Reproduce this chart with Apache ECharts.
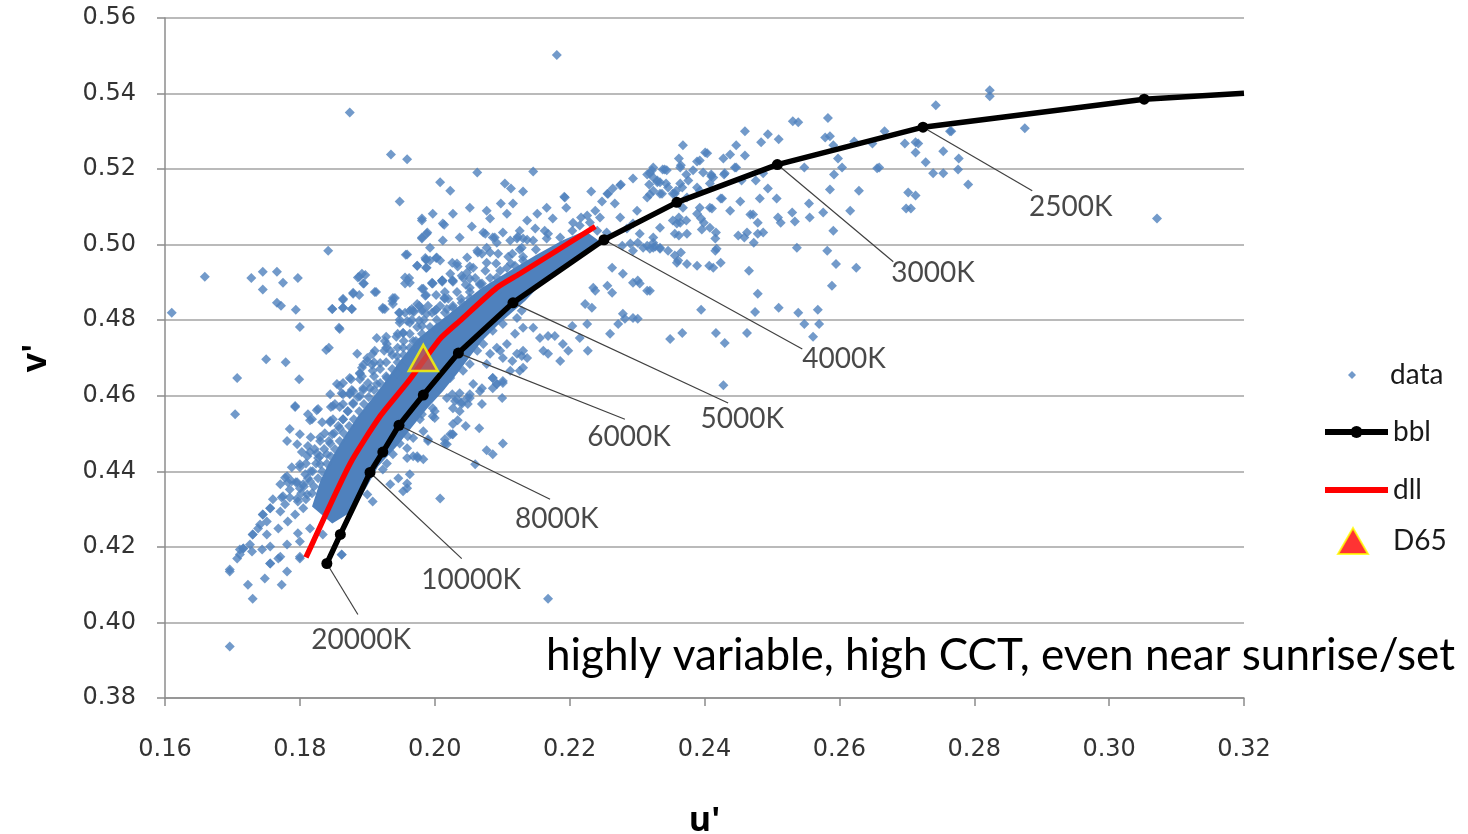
<!DOCTYPE html>
<html><head><meta charset="utf-8">
<script src="https://cdn.jsdelivr.net/npm/echarts@6/dist/echarts.min.js"></script>
<style>html,body{margin:0;padding:0;background:#fff}#c{width:1468px;height:834px}</style>
</head><body><div id="c"></div>
<script>
// ---- data (u', v') ----
const dataPts = [
[0.1874,0.5350],[0.1935,0.5239],[0.1959,0.5226],[0.1948,0.5114],[0.1981,0.5069],[0.2014,0.5053],[0.1989,0.5032],[0.1981,0.5016],[0.1842,0.4984],[0.1957,0.4973],[0.1987,0.4960],[0.2002,0.4965],[0.1974,0.4944],[0.1987,0.4939],[0.1659,0.4915],[0.1728,0.4912],[0.1745,0.4928],[0.1766,0.4928],[0.1775,0.4899],[0.1797,0.4912],[0.1745,0.4881],[0.1888,0.4915],[0.1897,0.4920],[0.1895,0.4897],[0.1913,0.4875],[0.1879,0.4873],[0.1888,0.4867],[0.1864,0.4854],[0.1864,0.4833],[0.1877,0.4830],[0.1848,0.4830],[0.1766,0.4846],[0.1772,0.4838],[0.1794,0.4828],[0.1610,0.4820],[0.1956,0.4897],[0.1962,0.4912],[0.1983,0.4883],[0.1996,0.4897],[0.2011,0.4902],[0.2027,0.4902],[0.1926,0.4830],[0.1937,0.4851],[0.1941,0.4859],[0.1947,0.4820],[0.1956,0.4820],[0.1969,0.4822],[0.1977,0.4838],[0.1981,0.4825],[0.2002,0.4828],[0.2014,0.4859],[0.2018,0.4830],[0.1948,0.4801],[0.1977,0.4799],[0.1800,0.4782],[0.1858,0.4780],
[0.2181,0.5502],[0.2063,0.5191],[0.2146,0.5194],[0.2104,0.5162],[0.2113,0.5149],[0.2131,0.5141],[0.2192,0.5127],[0.2232,0.5141],[0.2257,0.5135],[0.2264,0.5149],[0.2276,0.5159],[0.2294,0.5175],[0.2315,0.5186],[0.2324,0.5204],[0.2318,0.5159],[0.2330,0.5165],[0.2341,0.5199],[0.2346,0.5151],[0.2319,0.5133],[0.2334,0.5135],[0.2368,0.5263],[0.2362,0.5228],[0.2365,0.5210],[0.2389,0.5220],[0.2401,0.5244],[0.2373,0.5186],[0.2376,0.5170],[0.2398,0.5191],[0.2410,0.5186],[0.2429,0.5186],[0.2428,0.5228],[0.2438,0.5239],[0.2447,0.5263],[0.2445,0.5204],[0.2358,0.5143],[0.2367,0.5151],[0.2426,0.5122],[0.2408,0.5162],
[0.2823,0.5409],[0.2823,0.5393],[0.2743,0.5369],[0.2583,0.5335],[0.2531,0.5327],[0.2539,0.5324],[0.2460,0.5300],[0.2494,0.5292],[0.2484,0.5271],[0.2510,0.5279],[0.2579,0.5284],[0.2586,0.5287],[0.2591,0.5263],[0.2598,0.5228],[0.2604,0.5204],[0.2548,0.5204],[0.2592,0.5186],[0.2622,0.5273],[0.2649,0.5268],[0.2667,0.5300],[0.2697,0.5268],[0.2713,0.5271],[0.2713,0.5244],[0.2728,0.5218],[0.2656,0.5202],[0.2659,0.5204],[0.2629,0.5143],[0.2586,0.5146],[0.2739,0.5189],[0.2754,0.5189],[0.2754,0.5247],[0.2776,0.5199],[0.2777,0.5228],[0.2766,0.5300],[0.2791,0.5159],[0.2702,0.5138],[0.2713,0.5130],[0.2699,0.5096],[0.2706,0.5096],[0.2616,0.5090],[0.2576,0.5085],[0.2591,0.5037],[0.2582,0.4984],[0.2595,0.4949],[0.2625,0.4939],[0.2589,0.4891],
[0.2460,0.5236],[0.2364,0.5204],[0.2338,0.5199],[0.2324,0.5178],[0.2343,0.5162],[0.2356,0.5135],[0.2410,0.5181],[0.2430,0.5189],[0.2447,0.5204],[0.2455,0.5170],[0.2476,0.5170],[0.2487,0.5189],[0.2494,0.5149],[0.2482,0.5122],[0.2507,0.5122],[0.2453,0.5114],[0.2424,0.5122],[0.2411,0.5096],[0.2393,0.5098],[0.2438,0.5090],[0.2468,0.5080],[0.2479,0.5058],[0.2472,0.5080],[0.2509,0.5072],[0.2513,0.5058],[0.2530,0.5085],[0.2534,0.5061],[0.2555,0.5109],[0.2556,0.5072],[0.2395,0.5069],[0.2399,0.5058],[0.2396,0.5040],[0.2362,0.5072],[0.2359,0.5056],[0.2373,0.5064],[0.2362,0.5024],[0.2374,0.5029],[0.2417,0.5032],[0.2450,0.5024],[0.2463,0.5032],[0.2459,0.5019],[0.2473,0.5005],[0.2479,0.5029],[0.2487,0.5032],[0.2418,0.4989],[0.2324,0.5005],[0.2327,0.4995],[0.2356,0.4971],[0.2365,0.4979],[0.2359,0.4952],[0.2407,0.4944],[0.2424,0.4952],[0.2466,0.4931],[0.2537,0.4992],[0.2479,0.4870],[0.2395,0.4828],[0.2475,0.4822],[0.2510,0.4833],[0.2539,0.4820],[0.2568,0.4828],[0.2548,0.4790],[0.2570,0.4790],[0.2561,0.4756],[0.2349,0.4750],[0.2367,0.4766],[0.2417,0.4766],[0.2430,0.4740],[0.2463,0.4766],[0.2319,0.4878],[0.2322,0.5196],[0.2330,0.5170],[0.2337,0.5135],[0.2764,0.5300],[0.2875,0.5308],[0.2717,0.5268],[0.3071,0.5069],[0.2428,0.4628],
[0.2193,0.5125],[0.2098,0.5109],[0.2195,0.5098],[0.2248,0.5114],[0.2275,0.5157],[0.2256,0.5135],[0.2238,0.5090],[0.2217,0.5072],[0.2205,0.5058],[0.2226,0.5077],[0.2012,0.5056],[0.2055,0.5048],[0.2072,0.5032],[0.2086,0.5019],[0.2122,0.5016],[0.2137,0.5013],[0.2146,0.5011],[0.2163,0.5037],[0.2168,0.5029],[0.1993,0.4958],[0.1986,0.4965],[0.2026,0.4952],[0.2040,0.4918],[0.2052,0.4886],[0.2067,0.4897],[0.1997,0.4897],[0.2011,0.4905],[0.1986,0.4865],
[0.2278,0.4997],[0.2290,0.5003],[0.2301,0.5005],[0.2315,0.4997],[0.2324,0.4992],[0.2334,0.4989],[0.2346,0.4984],[0.2361,0.4958],[0.2374,0.4949],[0.2389,0.4944],[0.2413,0.4939],
[0.2263,0.4939],[0.2279,0.4923],[0.2301,0.4905],[0.2294,0.4899],[0.2304,0.4897],[0.2315,0.4878],[0.2256,0.4891],[0.2263,0.4873],[0.2235,0.4886],[0.2233,0.4833],[0.2223,0.4843],
[0.2279,0.4817],[0.2282,0.4804],[0.2294,0.4806],[0.2301,0.4804],[0.2272,0.4790],[0.2260,0.4764],[0.2226,0.4790],[0.2204,0.4785],[0.2215,0.4753],[0.2227,0.4719],[0.2198,0.4719],[0.2190,0.4737],[0.2178,0.4758],[0.2168,0.4758],[0.2146,0.4780],[0.2156,0.4753],[0.2131,0.4719],[0.2137,0.4700],[0.2161,0.4719],[0.2168,0.4711],[0.2186,0.4692],[0.2126,0.4666],[0.2115,0.4692],[0.2097,0.4719],[0.2077,0.4684],[0.2086,0.4647],[0.2101,0.4639],[0.2092,0.4631],[0.2067,0.4612],[0.2057,0.4631],[0.2048,0.4594],[0.2037,0.4559],[0.2027,0.4525],[0.2023,0.4498],
[0.2408,0.5045],[0.2416,0.5016],[0.2389,0.5082],[0.2374,0.5125],[0.2393,0.5143],[0.2416,0.4984],[0.2356,0.5029],[0.2364,0.5058],[0.2408,0.5098],[0.2238,0.4878],
[0.2166,0.5016],[0.2186,0.5019],[0.2204,0.5037],[0.2215,0.5051],[0.2230,0.5059],[0.2245,0.5072],[0.2241,0.5037],[0.2255,0.5032],[0.2275,0.5072],[0.2285,0.5043],[0.2294,0.5056],[0.2304,0.5029],[0.2267,0.5109],[0.2300,0.5090],[0.2315,0.5125],[0.2324,0.5143],[0.2334,0.5165],[0.2344,0.5197],[0.2319,0.5189],[0.2353,0.5135],[0.2364,0.5162],[0.2383,0.5197],[0.2393,0.5223],[0.2404,0.5242],[0.2413,0.5178],[0.2389,0.5151],[0.2368,0.5098],[0.2353,0.5064],[0.2334,0.5045],[0.2324,0.5019],[0.2334,0.4992],[0.2319,0.4989],[0.2309,0.4992],[0.2294,0.4984],
[0.2008,0.5165],[0.2023,0.5143],[0.1997,0.5082],[0.2027,0.5082],[0.2052,0.5098],[0.2077,0.5090],[0.2082,0.5069],[0.2107,0.5082],[0.2116,0.5109],[0.2137,0.5064],[0.2152,0.5082],[0.2166,0.5098],[0.2175,0.5069],[0.2149,0.5043],[0.2126,0.5037],[0.2101,0.5032],[0.2092,0.5005],[0.2112,0.5011],[0.2129,0.4992],[0.2077,0.4992],[0.2063,0.4984],[0.2048,0.4966],[0.2033,0.4950],[0.2023,0.4923],[0.2057,0.4939],[0.2077,0.4952],[0.2094,0.4976],[0.2008,0.4958],[0.1993,0.4992],[0.2012,0.5011],[0.2037,0.5019],[0.1981,0.5064],
[0.2100,0.4594],[0.2086,0.4620],[0.2030,0.4586],[0.2040,0.4583],[0.2049,0.4578],[0.2026,0.4604],[0.2037,0.4607],[0.2052,0.4604],[0.2000,0.4559],[0.1997,0.4546],[0.1981,0.4551],[0.1978,0.4538],[0.2034,0.4535],[0.2046,0.4520],[0.2066,0.4514],[0.2026,0.4498],[0.2015,0.4474],[0.2018,0.4472],[0.2101,0.4474],[0.2077,0.4456],[0.2086,0.4445],[0.1983,0.4506],[0.1990,0.4485],[0.1968,0.4488],[0.1960,0.4493],[0.1948,0.4474],[0.1959,0.4461],[0.1968,0.4440],[0.1975,0.4435],[0.1983,0.4432],[0.1938,0.4445],[0.1923,0.4405],[0.1929,0.4421],[0.2060,0.4419],[0.1946,0.4382],[0.1959,0.4368],[0.1953,0.4347],[0.1934,0.4366],[0.2008,0.4328],[0.2168,0.4063],
[0.1923,0.4833],[0.1938,0.4843],[0.1839,0.4721],[0.1843,0.4727],[0.1750,0.4697],[0.1779,0.4689],[0.1707,0.4647],[0.1799,0.4644],[0.1704,0.4551],[0.1793,0.4570],[0.1825,0.4562],[0.1812,0.4551],[0.1818,0.4538],[0.1849,0.4573],[0.1864,0.4634],[0.1879,0.4612],[0.1889,0.4660],[0.1900,0.4692],[0.1908,0.4711],[0.1929,0.4737],[0.1953,0.4766],[0.1968,0.4825],
[0.1778,0.4383],[0.1785,0.4352],[0.1796,0.4371],[0.1805,0.4366],[0.1745,0.4286],[0.1756,0.4302],[0.1741,0.4259],[0.1751,0.4233],[0.1730,0.4233],[0.1716,0.4196],[0.1711,0.4193],[0.1707,0.4169],[0.1696,0.4135],[0.1723,0.4100],[0.1730,0.4063],[0.1748,0.4116],[0.1756,0.4156],[0.1768,0.4169],[0.1773,0.4100],[0.1781,0.4135],[0.1800,0.4169],[0.1862,0.4179],[0.1959,0.4355],[0.1963,0.4392],[0.1900,0.4339],[0.1908,0.4320],[0.1997,0.4567],[0.2000,0.4541],[0.2027,0.4498],[0.2015,0.4485],[0.1990,0.4480],[0.1974,0.4440],[0.1959,0.4435],[0.1696,0.3936],
[0.1793,0.4573],[0.1827,0.4565],[0.1815,0.4535],[0.1852,0.4578],[0.1845,0.4604],[0.1859,0.4626],[0.1785,0.4512],[0.1800,0.4498],[0.1781,0.4480],[0.1796,0.4472],[0.1812,0.4467],[0.1830,0.4480],[0.1825,0.4448],[0.1811,0.4440],[0.1800,0.4419],[0.1781,0.4387],[0.1788,0.4374],[0.1771,0.4366],[0.1775,0.4334],[0.1760,0.4326],[0.1756,0.4302],[0.1745,0.4286],[0.1751,0.4267],[0.1738,0.4249],[0.1730,0.4233],[0.1726,0.4206],[0.1716,0.4196],[0.1711,0.4180],[0.1729,0.4188],[0.1744,0.4193],[0.1756,0.4201],[0.1771,0.4174],[0.1756,0.4156],[0.1781,0.4206],[0.1800,0.4214],[0.1797,0.4236],[0.1815,0.4249],[0.1800,0.4174],[0.1696,0.4140],[0.1862,0.4180],[0.1834,0.4233],[0.1782,0.4267],[0.1768,0.4249],[0.1793,0.4286],[0.1805,0.4302],[0.1771,0.4294],[0.1778,0.4313],[0.1796,0.4328],[0.1811,0.4339],[0.1800,0.4355],[0.1815,0.4374],[0.1819,0.4400],[0.1808,0.4392],[0.1830,0.4419],[0.1827,0.4435],[0.1840,0.4445],[0.1845,0.4474],[0.1848,0.4498],[0.1859,0.4514],[0.1845,0.4533],[0.1864,0.4538],[0.1871,0.4559],[0.1879,0.4581],[0.1889,0.4599],[0.1874,0.4604],[0.1904,0.4620],
[0.1981,0.5019],[0.1988,0.5029],[0.2075,0.5029],[0.2089,0.5019],[0.2123,0.5021],[0.2131,0.5016],[0.1959,0.4974],[0.2003,0.4966],[0.1987,0.4960],[0.1974,0.4944],[0.1988,0.4939],[0.2070,0.4976],[0.2115,0.4976],[0.2131,0.4958],[0.1892,0.4923],[0.1886,0.4913],[0.1894,0.4897],[0.1911,0.4875],[0.1956,0.4913],[0.1963,0.4899],[0.1981,0.4883],[0.1996,0.4899],[0.2011,0.4905],[0.2027,0.4905],[0.2048,0.4926],[0.2052,0.4910],[0.2070,0.4897],[0.2092,0.4913],[0.2107,0.4939],[0.2119,0.4944],
[0.1864,0.4857],[0.1879,0.4870],[0.1864,0.4833],[0.1877,0.4830],[0.1848,0.4830],[0.1938,0.4859],[0.1923,0.4830],[0.1948,0.4820],[0.1963,0.4825],[0.1974,0.4843],[0.1988,0.4817],[0.2000,0.4825],[0.2015,0.4857],[0.2027,0.4833],[0.2040,0.4846],[0.2052,0.4859],[0.2063,0.4851],[0.2077,0.4870],[0.2092,0.4873],
[0.1859,0.4777],[0.1914,0.4753],[0.1926,0.4745],[0.1953,0.4766],[0.1968,0.4745],[0.1959,0.4798],[0.1981,0.4785],[0.1993,0.4764],[0.2003,0.4780],[0.2015,0.4790],
[0.1885,0.4711],[0.1900,0.4700],[0.1892,0.4674],[0.1908,0.4666],[0.1919,0.4687],[0.1934,0.4719],[0.1944,0.4705],[0.1953,0.4727],[0.1968,0.4711],[0.1983,0.4737],
[0.1855,0.4631],[0.1864,0.4604],[0.1874,0.4647],[0.1889,0.4658],[0.1894,0.4620],[0.1914,0.4631],[0.1929,0.4647],[0.1944,0.4658],[0.1953,0.4674],
[0.2122,0.4806],[0.2129,0.4825],[0.2131,0.4780],[0.2119,0.4764],[0.2107,0.4737],[0.2092,0.4727],[0.2082,0.4711],[0.2101,0.4700],[0.2122,0.4711],[0.2129,0.4705],[0.2131,0.4674],[0.2112,0.4666],[0.2086,0.4647],[0.2070,0.4620],[0.2092,0.4631],[0.2101,0.4634],[0.2052,0.4594],[0.2070,0.4578],[0.2033,0.4591],[0.2027,0.4567],[0.2040,0.4578],[0.2018,0.4594],[0.2008,0.4620],[0.2023,0.4647],[0.2042,0.4666],[0.2052,0.4684],[0.2063,0.4719],[0.2072,0.4737],[0.2086,0.4772],[0.2101,0.4790],
[0.1797,0.4320],[0.1809,0.4326],[0.1802,0.4342],[0.1818,0.4342],[0.1806,0.4360],[0.1821,0.4360],[0.1812,0.4382],[0.1827,0.4382],[0.1816,0.4400],[0.1833,0.4400],[0.1824,0.4421],[0.1840,0.4421],[0.1809,0.4421],[0.1830,0.4440],[0.1846,0.4440],[0.1836,0.4459],[0.1852,0.4459],[0.1822,0.4459],[0.1843,0.4480],[0.1859,0.4480],[0.1851,0.4501],[0.1865,0.4501],[0.1837,0.4501],[0.1857,0.4520],[0.1873,0.4520],[0.1864,0.4538],[0.1880,0.4538],[0.1849,0.4538],[0.1871,0.4559],[0.1888,0.4559],[0.1879,0.4578],[0.1895,0.4578],[0.1864,0.4578],[0.1886,0.4597],[0.1902,0.4597],[0.1894,0.4615],[0.1910,0.4615],[0.1877,0.4615],[0.1901,0.4634],[0.1919,0.4634],[0.1910,0.4652],[0.1928,0.4652],[0.1892,0.4652],[0.1919,0.4671],[0.1937,0.4671],[0.1928,0.4689],[0.1945,0.4689],[0.1910,0.4689],[0.1937,0.4708],[0.1954,0.4708],[0.1945,0.4727],[0.1963,0.4727],[0.1928,0.4727],[0.1954,0.4745],[0.1972,0.4745],[0.1963,0.4764],[0.1981,0.4764],[0.1945,0.4764],[0.1974,0.4782],[0.1993,0.4782],[0.1984,0.4801],[0.2003,0.4801],[0.1966,0.4801],[0.1996,0.4820],[0.2015,0.4820],[0.2008,0.4838],[0.2027,0.4838],[0.1990,0.4838],[0.2020,0.4857],[0.2039,0.4857],[0.2033,0.4875],[0.2052,0.4875],[0.2015,0.4875],[0.2046,0.4894],[0.2067,0.4894],[0.2060,0.4912],[0.2082,0.4912],[0.2042,0.4912],[0.2075,0.4931],[0.2097,0.4931],[0.2091,0.4950],[0.2113,0.4950],[0.2109,0.4968],[0.2131,0.4968],[0.2126,0.4987],[0.2150,0.4987],
[0.1785,0.4331],[0.1773,0.4331],[0.1794,0.4371],[0.1782,0.4371],[0.1800,0.4411],[0.1788,0.4411],[0.1815,0.4451],[0.1803,0.4451],[0.1830,0.4490],[0.1816,0.4490],[0.1845,0.4530],[0.1833,0.4530],[0.1859,0.4570],[0.1846,0.4570],[0.1874,0.4607],[0.1862,0.4607],[0.1889,0.4644],[0.1876,0.4644],[0.1907,0.4682],[0.1894,0.4682],[0.1925,0.4719],[0.1911,0.4719],[0.1943,0.4756],[0.1928,0.4756],[0.1963,0.4793],[0.1948,0.4793],[0.1981,0.4830],[0.1966,0.4830],[0.2002,0.4867],[0.1987,0.4867],[0.2026,0.4905],[0.2011,0.4905],[0.2052,0.4942],[0.2034,0.4942],[0.2082,0.4979],[0.2064,0.4979]
];

// solid core of the cloud (outline of the region that reads as solid colour)
const denseBand = [
[0.1818,0.4307],[0.1830,0.4374],[0.1842,0.4419],[0.1862,0.4480],[0.1886,0.4546],[0.1904,0.4586],[0.1925,0.4634],[0.1948,0.4692],[0.1975,0.4751],[0.2008,0.4798],[0.2045,0.4851],[0.2070,0.4886],[0.2104,0.4923],[0.2149,0.4971],[0.2189,0.5011],[0.2223,0.5037],
[0.2249,0.5003],[0.2208,0.4963],[0.2168,0.4915],[0.2134,0.4851],[0.2097,0.4793],[0.2070,0.4745],[0.2052,0.4703],[0.2034,0.4660],[0.2012,0.4612],[0.1988,0.4565],[0.1966,0.4517],[0.1945,0.4469],[0.1916,0.4413],[0.1897,0.4352],[0.1877,0.4294],[0.1848,0.4262]
];

const bblPts = [[0.1840,0.4156],[0.1860,0.4233],[0.1904,0.4397],[0.1923,0.4451],[0.1947,0.4522],[0.1983,0.4602],[0.2035,0.4713],[0.2116,0.4846],[0.2251,0.5013],[0.2359,0.5112],[0.2508,0.5212],[0.2724,0.5311],[0.3052,0.5385]];
const bblEnd = [0.3200,0.5401];
const dllPts = [[0.1809,0.4172],[0.1874,0.4419],[0.1919,0.4546],[0.1959,0.4634],[0.2008,0.4751],[0.2037,0.4798],[0.2092,0.4886],[0.2126,0.4923],[0.2238,0.5048]];
const d65 = [[0.1983,0.4700]];

const cctNames   = ['2500K','3000K','4000K','5000K','6000K','8000K','10000K','20000K'];
const leaderFrom = [[0.2724,0.5311],[0.2508,0.5212],[0.2251,0.5013],[0.2116,0.4846],[0.2035,0.4713],[0.1947,0.4522],[0.1904,0.4397],[0.1840,0.4156]];
const leaderTo   = [[0.2886,0.5143],[0.2680,0.4955],[0.2545,0.4724],[0.2435,0.4581],[0.2282,0.4538],[0.2171,0.4326],[0.2040,0.4169],[0.1886,0.4021]];
const labelAt    = [[0.2943,0.5101],[0.2739,0.4926],[0.2607,0.4697],[0.2456,0.4538],[0.2288,0.4490],[0.2181,0.4275],[0.2054,0.4113],[0.1891,0.3954]];

const uTicks = {min:0.16, max:0.32, step:0.02};
const vTicks = {min:0.38, max:0.56, step:0.02};
const noteText = 'highly variable, high CCT, even near sunrise/set';

// ---- chart ----
const chart = echarts.init(document.getElementById('c'), null, {renderer:'canvas'});
const BLUE = '#4f81bd';
const lgText = {fontFamily:'Lato', fontSize:28, color:'#1a1a1a'};
const legendBase = {orient:'vertical', itemGap:0, padding:0, selectedMode:false,
  lineStyle:{width:6}, textStyle:lgText};

const option = {
  backgroundColor:'#fff',
  animation:false,
  grid:{left:165, right:224, top:18, bottom:136, containLabel:false, outerBoundsMode:'none'},
  xAxis:{type:'value', min:uTicks.min, max:uTicks.max, interval:uTicks.step,
    name:"u'", nameLocation:'middle', nameGap:106,
    nameTextStyle:{fontFamily:'Open Sans', fontWeight:'bold', fontSize:34, color:'#000'},
    axisLine:{show:true, onZero:false, lineStyle:{color:'#8c8c8c', width:1.5}},
    axisTick:{show:true, inside:false, length:8, lineStyle:{color:'#8c8c8c', width:1.5}},
    axisLabel:{margin:40, fontFamily:'DejaVu Sans', fontSize:24, color:'#333', formatter:v=>v.toFixed(2)},
    splitLine:{show:false}},
  yAxis:{type:'value', min:vTicks.min, max:vTicks.max, interval:vTicks.step,
    name:"v'", nameLocation:'middle', nameGap:112, nameRotate:90,
    nameTextStyle:{fontFamily:'Open Sans', fontWeight:'bold', fontSize:34, color:'#000'},
    axisLine:{show:true, onZero:false, lineStyle:{color:'#8c8c8c', width:1.5}},
    axisTick:{show:true, inside:false, length:8, lineStyle:{color:'#8c8c8c', width:1.5}},
    axisLabel:{margin:29, fontFamily:'DejaVu Sans', fontSize:24, color:'#333', formatter:v=>v.toFixed(2)},
    splitLine:{show:true, lineStyle:{color:'#a3a3a3', width:1.5}}},
  legend:[
    Object.assign({}, legendBase, {left:1348, top:361, itemWidth:8, itemHeight:8,
      textStyle:Object.assign({}, lgText, {padding:[0,0,0,29]}), data:[{name:'data'}]}),
    Object.assign({}, legendBase, {left:1322, top:418, itemWidth:63, itemHeight:15, data:[{name:'bbl'}]}),
    Object.assign({}, legendBase, {left:1322, top:476, itemWidth:63, itemHeight:15,
      data:[{name:'dll', itemStyle:{opacity:0}}]}),
    Object.assign({}, legendBase, {left:1337, top:527, itemWidth:30, itemHeight:26,
      textStyle:Object.assign({}, lgText, {padding:[0,0,0,20]}),
      data:[{name:'D65', itemStyle:{color:'#ff0000', borderColor:'#ffff00', borderWidth:2}}]})
  ],
  graphic:[{type:'text', left:546, top:634, silent:true,
    style:{text:noteText, fontFamily:'Lato', fontSize:44, fill:'#000'}}],
  series:[
    {type:'custom', name:'core', silent:true, clip:true, z:1,
      data:[0],
      renderItem:(params, api)=>({type:'polygon',
        shape:{points:denseBand.map(p=>api.coord(p))},
        style:{fill:BLUE}})},
    {type:'scatter', name:'data', data:dataPts, symbol:'diamond', symbolSize:10,
      itemStyle:{color:BLUE}, silent:true, z:2},
    {type:'lines', coordinateSystem:'cartesian2d', silent:true, z:3,
      data:leaderFrom.map((p,i)=>({coords:[p, leaderTo[i]]})),
      lineStyle:{color:'#404040', width:1.2, opacity:1, curveness:0}},
    {type:'line', name:'bbl', data:bblPts.concat([{value:bblEnd, symbol:'none'}]),
      symbol:'circle', symbolSize:11, showSymbol:true, z:4,
      lineStyle:{color:'#000', width:5.5}, itemStyle:{color:'#000'}, silent:true},
    {type:'line', name:'dll', data:dllPts, symbol:'none', smooth:0.2, z:4,
      lineStyle:{color:'#ff0000', width:5.5}, itemStyle:{color:'#ff0000'}, silent:true},
    {type:'scatter', name:'D65', data:d65, symbol:'triangle', symbolSize:[29,26], z:5,
      itemStyle:{color:'#c0504d', borderColor:'#ffff00', borderWidth:2.5}, silent:true},
    {type:'scatter', name:'cct', silent:true, z:6, symbolSize:0,
      data:labelAt.map((p,i)=>({value:p, name:cctNames[i]})),
      label:{show:true, position:'inside', formatter:'{b}', fontFamily:'Lato', fontSize:28, color:'#1a1a1a'}}
  ]
};
chart.setOption(option);
</script>
</body></html>
